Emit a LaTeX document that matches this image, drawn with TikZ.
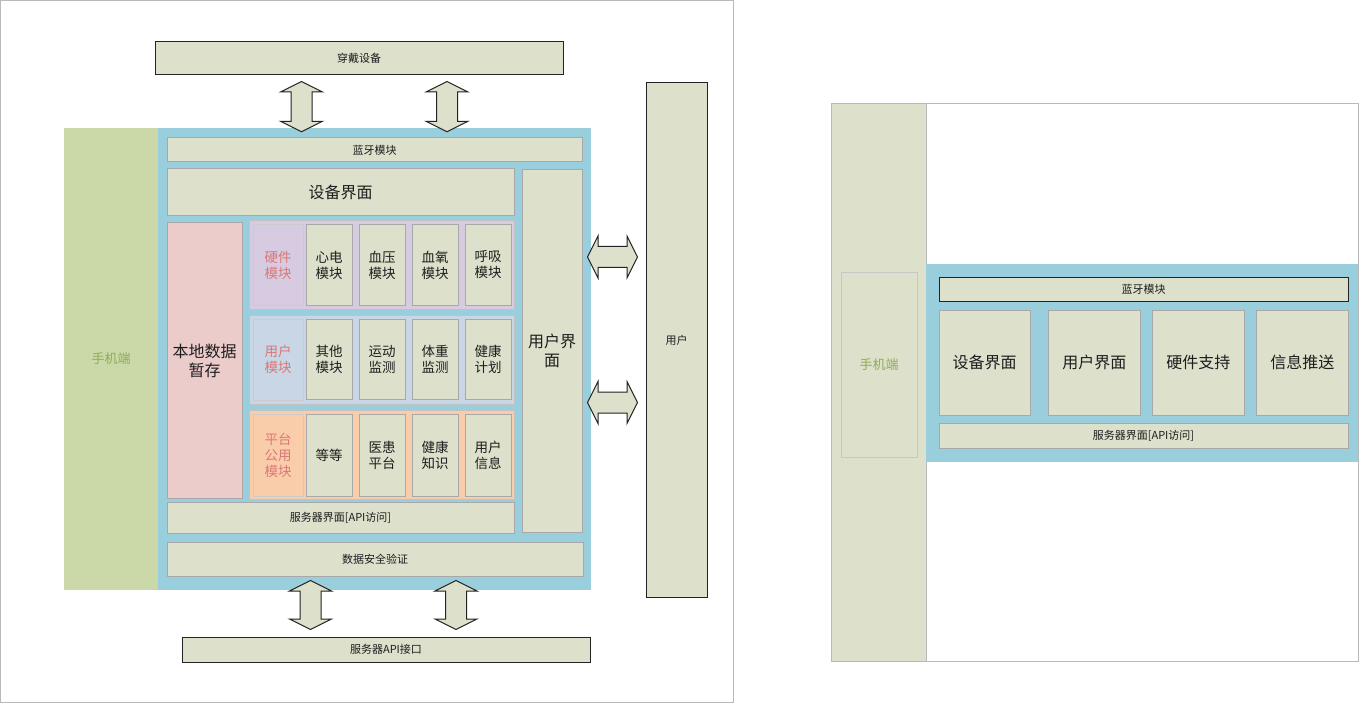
\documentclass[tikz,border=0pt]{standalone}
\usepackage{fontspec}
\setmainfont{Noto Sans CJK SC}
\usepackage{tikz}
\usetikzlibrary{calc,fit}

\definecolor{beige}{RGB}{221,224,203}
\definecolor{phonegreen}{RGB}{203,217,169}
\definecolor{phonetext}{RGB}{140,175,85}
\definecolor{mobblue}{RGB}{153,207,221}
\definecolor{localpink}{RGB}{236,203,203}
\definecolor{hwpurple}{RGB}{214,203,224}
\definecolor{usrgray}{RGB}{200,214,229}
\definecolor{puborange}{RGB}{250,205,170}
\definecolor{labelred}{RGB}{218,120,120}
\definecolor{paneline}{RGB}{168,168,168}
\definecolor{darkline}{RGB}{35,35,35}
\definecolor{frameline}{RGB}{185,185,185}
\definecolor{txt}{RGB}{30,30,30}

\tikzset{
  pane/.style={draw=paneline, fill=beige, inner sep=0pt, line width=1pt},
  dark/.style={draw=darkline},
  tag/.style={draw=paneline!60},
  grp/.style={draw=paneline!70, inner sep=0pt, line width=1pt},
  % text labels
  tx/.style={align=center, text=txt, inner sep=0pt},
  sm/.style={tx, font=\fontsize{11}{13}\selectfont},
  mod/.style={tx, font=\fontsize{13.5}{16}\selectfont},
  big/.style={tx, font=\fontsize{16}{19}\selectfont},
  tagtx/.style={mod, text=labelred},
  phonetx/.style={tx, text=phonetext, font=\fontsize{13}{15}\selectfont},
  blkarr/.style={draw=darkline, fill=beige, line width=1pt, line join=miter},
  updown/.style={to path={let \p1=(\tikztostart), \p2=(\tikztotarget) in
    (\x1,\y1) -- (\x1+21pt,\y1-10.5pt) -- (\x1+10.5pt,\y1-10.5pt) -- (\x1+10.5pt,\y2+10.5pt)
    -- (\x1+21pt,\y2+10.5pt) -- (\x1,\y2) -- (\x1-21pt,\y2+10.5pt) -- (\x1-10.5pt,\y2+10.5pt)
    -- (\x1-10.5pt,\y1-10.5pt) -- (\x1-21pt,\y1-10.5pt) -- cycle}},
  leftright/.style={to path={let \p1=(\tikztostart), \p2=(\tikztotarget) in
    (\x1,\y1) -- (\x1+10.5pt,\y1+21pt) -- (\x1+10.5pt,\y1+10.5pt) -- (\x2-10.5pt,\y1+10.5pt)
    -- (\x2-10.5pt,\y1+21pt) -- (\x2,\y1) -- (\x2-10.5pt,\y1-21pt) -- (\x2-10.5pt,\y1-10.5pt)
    -- (\x1+10.5pt,\y1-10.5pt) -- (\x1+10.5pt,\y1-21pt) -- cycle}}
}

\begin{document}
\begin{tikzpicture}[x=1pt,y=-1pt]
\useasboundingbox (0,0) rectangle (1359,703);

% frames
\draw[frameline, line width=1pt] (0.5,0.5) rectangle (733,702);
\draw[frameline, line width=1pt] (831,104) rectangle (1358,661);

%%% left: full layout
\node[pane, dark, fit={(155,42) (563,75)}, label={[sm]center:穿戴设备}] (wear) {};
\node[fit={(64,128) (158,590)}, inner sep=0pt, fill=phonegreen, label={[phonetx]center:手机端}] (phone) {};
\node[fit={(158,128) (591,590)}, inner sep=0pt, fill=mobblue] (mob) {};

\node[pane, fit={(167,138) (582,162)}, label={[sm]center:蓝牙模块}] (bt) {};
\node[pane, fit={(167,169) (514,216)}, label={[big]center:设备界面}] (devui) {};
\node[pane, fit={(522,170) (582,532)}, label={[big]center:{用户界\\面}}] (userui) {};
\node[pane, fill=localpink, fit={(167,223) (242,498)}, label={[big]center:{本地数据\\暂存}}] (local) {};

% hardware row
\node[grp, fill=hwpurple, fit={(249,221) (514,309)}] (hwgrp) {};
\node[pane, tag, fill=hwpurple, fit={(253,225) (303,305)}, label={[tagtx]center:{硬件\\模块}}] (hwtag) {};
\foreach \t [count=\i] in {{心电\\模块},{血压\\模块},{血氧\\模块},{呼吸\\模块}}
  \node[pane, fit={({306+53*(\i-1)},225) ({352+53*(\i-1)},305)}, label={[mod]center:{\t}}] (hw\i) {};

% user row
\node[grp, fill=usrgray, fit={(249,315) (514,404)}] (usrgrp) {};
\node[pane, tag, fill=usrgray, fit={(253,319) (303,400)}, label={[tagtx]center:{用户\\模块}}] (usrtag) {};
\foreach \t [count=\i] in {{其他\\模块},{运动\\监测},{体重\\监测},{健康\\计划}}
  \node[pane, fit={({306+53*(\i-1)},319) ({352+53*(\i-1)},399)}, label={[mod]center:{\t}}] (usr\i) {};

% public row
\node[grp, fill=puborange, fit={(249,410) (514,499)}] (pubgrp) {};
\node[pane, tag, fill=puborange, fit={(253,414) (303,496)}, label={[tagtx]center:{平台\\公用\\模块}}] (pubtag) {};
\foreach \t [count=\i] in {{等等},{医患\\平台},{健康\\知识},{用户\\信息}}
  \node[pane, fit={({306+53*(\i-1)},414) ({352+53*(\i-1)},496)}, label={[mod]center:{\t}}] (pub\i) {};

\node[pane, fit={(167,502) (514,533)}, label={[sm]center:服务器界面[API访问]}] (srv) {};
\node[pane, fit={(167,542) (583,576)}, label={[sm]center:数据安全验证}] (sec) {};
\node[pane, dark, fit={(182,637) (590,662)}, label={[sm]center:服务器API接口}] (api) {};
\node[pane, dark, fit={(646,83) (707,597)}, label={[sm]center:用户}] (user) {};

% block arrows
\coordinate (a1s) at ($(wear.south)+(-57.5,6)$);
\coordinate (a1e) at ($(a1s |- mob.north)+(0,4)$);
\coordinate (a2s) at ($(wear.south)+(88,6)$);
\coordinate (a2e) at ($(a2s |- mob.north)+(0,4)$);
\coordinate (b1s) at ($(sec.south)+(-64.5,4)$);
\coordinate (b1e) at ($(b1s |- api.north)+(0,-7)$);
\coordinate (b2s) at ($(sec.south)+(81,4)$);
\coordinate (b2e) at ($(b2s |- api.north)+(0,-7)$);
\coordinate (h1s) at ($(userui.east)+(5,-94)$);
\coordinate (h1e) at ($(h1s -| user.west)+(-8,0)$);
\coordinate (h2s) at ($(userui.east)+(5,51.5)$);
\coordinate (h2e) at ($(h2s -| user.west)+(-8,0)$);
\draw[blkarr] (a1s) to[updown] (a1e);
\draw[blkarr] (a2s) to[updown] (a2e);
\draw[blkarr] (b1s) to[updown] (b1e);
\draw[blkarr] (b2s) to[updown] (b2e);
\draw[blkarr] (h1s) to[leftright] (h1e);
\draw[blkarr] (h2s) to[leftright] (h2e);

%%% right: overview
\node[pane, draw=frameline, fit={(831,104) (926,661)}] (rphone) {};
\node[pane, draw=frameline!80, fit={(841,272) (917,457)}, label={[phonetx]center:手机端}] (rphonein) {};
\node[fit={(926,264) (1358,462)}, inner sep=0pt, fill=mobblue] (rmob) {};
\node[pane, dark, fit={(939,277) (1348,301)}, label={[sm]center:蓝牙模块}] (rbt) {};
\node[pane, fit={(939,310) (1030,415)}, label={[big]center:设备界面}] (rdev) {};
\node[pane, fit={(1048.5,310) (1140,415)}, label={[big]center:用户界面}] (rusr) {};
\node[pane, fit={(1152.5,310) (1244,415)}, label={[big]center:硬件支持}] (rhw) {};
\node[pane, fit={(1256.5,310) (1348,415)}, label={[big]center:信息推送}] (rpush) {};
\node[pane, fit={(939,423) (1348,448)}, label={[sm]center:服务器界面[API访问]}] (rsrv) {};
\end{tikzpicture}
\end{document}
